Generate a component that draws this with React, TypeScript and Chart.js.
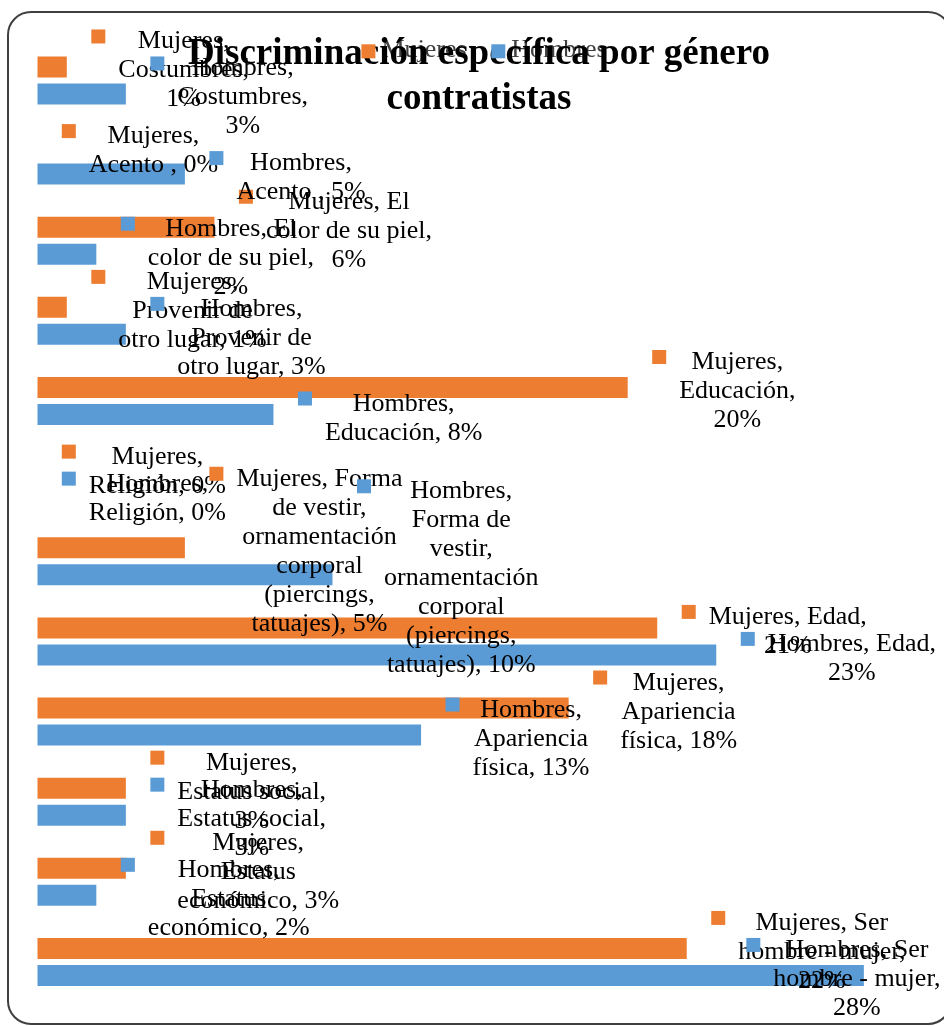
import React, { useEffect, useRef } from "react";
import { Chart, registerables } from "chart.js";

Chart.register(...registerables);

// ---- data ----
const categories = [
  "Costumbres",
  "Acento ",
  "El color de su piel",
  "Provenir de otro lugar",
  "Educación",
  "Religión",
  "Forma de vestir, ornamentación corporal (piercings, tatuajes)",
  "Edad",
  "Apariencia física",
  "Estatus social",
  "Estatus económico",
  "Ser hombre - mujer",
];
const mujeres = [1, 0, 6, 1, 20, 0, 5, 21, 18, 3, 3, 22];
const hombres = [3, 5, 2, 3, 8, 0, 10, 23, 13, 3, 2, 28];
const seriesNames = ["Mujeres", "Hombres"];
const seriesColors = ["#ED7D31", "#5B9BD5"];
const chartTitle = ["Discriminación específica por género", "contratistas"];
const axisMax = 30;

// ---- styles ----
const SERIF = "'Liberation Serif', 'Times New Roman', serif";
const LABEL_FONT = `26px ${SERIF}`;
const TITLE_FONT = `bold 37px ${SERIF}`;
const LINE_H = 29;
const WRAP_W = 168.6;
const KEY = 14;

function wrap(ctx: CanvasRenderingContext2D, text: string, maxW: number): string[] {
  const words = text.split(" ");
  const lines: string[] = [];
  let cur = "";
  for (const w of words) {
    const test = cur ? cur + " " + w : w;
    if (cur && ctx.measureText(test).width > maxW) {
      lines.push(cur);
      cur = w;
    } else cur = test;
  }
  if (cur) lines.push(cur);
  return lines;
}

const overlayPlugin = {
  id: "excelOverlay",
  afterDatasetsDraw(chart: any) {
    const ctx: CanvasRenderingContext2D = chart.ctx;
    ctx.save();
    ctx.textBaseline = "alphabetic";

    // legend geometry
    ctx.font = LABEL_FONT;
    const gapKeyText = 6;
    const gapItems = 24.7;
    const widths = seriesNames.map((n) => ctx.measureText(n).width);
    const total =
      widths.reduce((a, b) => a + b, 0) +
      seriesNames.length * (KEY + gapKeyText) +
      gapItems * (seriesNames.length - 1);
    const legendBase = 57;
    const legendX: number[] = [];
    let x = 484 - total / 2;
    seriesNames.forEach((_, k) => {
      legendX.push(x);
      x += KEY + gapKeyText + widths[k] + gapItems;
    });
    // legend texts (under the title)
    ctx.textAlign = "left";
    ctx.fillStyle = "#404040";
    seriesNames.forEach((n, k) => ctx.fillText(n, legendX[k] + KEY + gapKeyText, legendBase));

    // title
    ctx.fillStyle = "#000";
    ctx.font = TITLE_FONT;
    ctx.textAlign = "center";
    const titleX = 479;
    ctx.fillText(chartTitle[0], titleX, 64.3);
    ctx.fillText(chartTitle[1], titleX, 108.5);

    // legend keys
    seriesNames.forEach((_, k) => {
      ctx.fillStyle = seriesColors[k];
      ctx.fillRect(legendX[k], legendBase - 12.7, KEY, KEY);
    });

    // data labels (Excel outside-end style with legend key)
    ctx.font = LABEL_FONT;
    const rightLimit = chart.width - 3.5;
    chart.data.datasets.forEach((ds: any, di: number) => {
      const meta = chart.getDatasetMeta(di);
      meta.data.forEach((bar: any, i: number) => {
        const text = `${ds.label}, ${categories[i]}, ${ds.data[i]}%`;
        const lines = wrap(ctx, text, WRAP_W);
        const widest = Math.max(...lines.map((l) => ctx.measureText(l).width));
        let keyLeft = bar.x + 24.5;
        keyLeft = Math.min(keyLeft, rightLimit - 27 - widest);
        const firstBase = bar.y - ((lines.length - 1) * LINE_H) / 2 + 10.5;
        ctx.fillStyle = seriesColors[di];
        ctx.fillRect(keyLeft, firstBase - 19, KEY, KEY);
        ctx.fillStyle = "#000";
        ctx.textAlign = "center";
        const tcx = keyLeft + 27 + widest / 2;
        lines.forEach((ln, k) => ctx.fillText(ln, tcx, firstBase + k * LINE_H));
      });
    });
    ctx.restore();
  },
};

export default function App() {
  const canvasRef = useRef<HTMLCanvasElement | null>(null);

  useEffect(() => {
    document.documentElement.style.overflow = "hidden";
    const canvas = canvasRef.current;
    if (!canvas) return;
    const chart = new Chart(canvas, {
      type: "bar",
      data: {
        labels: categories,
        datasets: [
          {
            label: seriesNames[0],
            data: mujeres,
            backgroundColor: seriesColors[0],
            borderWidth: 0,
            categoryPercentage: 0.674,
            barPercentage: 0.778,
          },
          {
            label: seriesNames[1],
            data: hombres,
            backgroundColor: seriesColors[1],
            borderWidth: 0,
            categoryPercentage: 0.674,
            barPercentage: 0.778,
          },
        ],
      },
      options: {
        indexAxis: "y",
        animation: false,
        responsive: false,
        devicePixelRatio: 1,
        layout: { padding: { left: 37.3, right: 21.1, top: 40.4, bottom: 24 } },
        scales: {
          x: { min: 0, max: axisMax, display: false },
          y: { display: false },
        },
        plugins: {
          legend: { display: false },
          title: { display: false },
          tooltip: { enabled: false },
        },
      },
      plugins: [overlayPlugin],
    });
    return () => chart.destroy();
  }, []);

  return (
    <div
      style={{
        position: "fixed",
        left: 0,
        top: 0,
        width: 944,
        height: 1026,
        overflow: "hidden",
        background: "#fff",
      }}
    >
      <div
        style={{
          position: "absolute",
          left: 7,
          top: 11,
          width: 945,
          height: 1014,
          border: "2px solid #3f3f3f",
          borderRadius: 24,
          boxSizing: "border-box",
        }}
      />
      <canvas
        ref={canvasRef}
        width={944}
        height={1026}
        style={{ position: "absolute", left: 0, top: 0, width: 944, height: 1026 }}
      />
    </div>
  );
}
